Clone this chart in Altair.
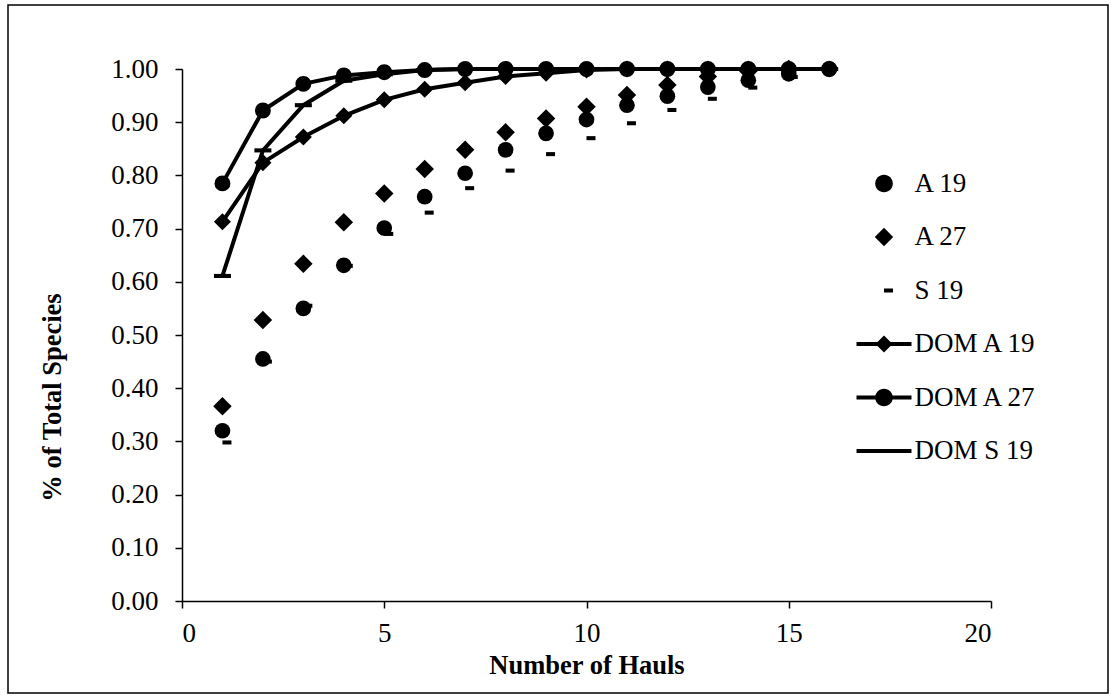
import altair as alt
import pandas as pd

# ---- data ----
hauls = list(range(1, 17))
a19 = [0.320, 0.455, 0.550, 0.631, 0.701, 0.760, 0.804, 0.848, 0.879, 0.905, 0.932, 0.949, 0.966, 0.979, 0.991, 1.000]
a27 = [0.366, 0.528, 0.634, 0.712, 0.766, 0.812, 0.848, 0.881, 0.907, 0.929, 0.951, 0.970, 0.986, 0.996, 1.000]
s19 = [0.298, 0.450, 0.555, 0.630, 0.690, 0.730, 0.776, 0.809, 0.840, 0.870, 0.898, 0.923, 0.944, 0.965, 0.985, 1.000]
dom_a19 = [0.713, 0.824, 0.872, 0.912, 0.942, 0.962, 0.974, 0.986, 0.992, 0.998, 1.000, 1.000, 1.000, 1.000, 1.000, 1.000]
dom_a27 = [0.785, 0.922, 0.972, 0.988, 0.994, 0.998, 1.000, 1.000, 1.000, 1.000, 1.000, 1.000, 1.000, 1.000, 1.000, 1.000]
dom_s19 = [0.611, 0.847, 0.932, 0.978, 0.990, 0.998, 1.000, 1.000, 1.000, 1.000, 1.000, 1.000, 1.000, 1.000, 1.000, 1.000]

series_names = ["A 19", "A 27", "S 19", "DOM A 19", "DOM A 27", "DOM S 19"]
series_values = [a19, a27, s19, dom_a19, dom_a27, dom_s19]
dom_names = ["DOM A 19", "DOM A 27", "DOM S 19"]

x_ticks = [0, 5, 10, 15, 20]
y_ticks = [round(i * 0.1, 1) for i in range(11)]

rows = []
for name, vals in zip(series_names, series_values):
    for h, v in zip(hauls, vals):
        rows.append({"series": name, "haul": h, "value": v})
df = pd.DataFrame(rows)

FONT = "Liberation Serif"

# marker styles (shape, size) per series
small_dash = "M0,-0.45H2V0.45H0Z"
long_dash = "M-1,-0.24H1V0.24H-1Z"
marker_style = {
    "A 19": ("circle", 246),
    "A 27": ("diamond", 342),
    "S 19": (small_dash, 81),
    "DOM A 19": ("diamond", 290),
    "DOM A 27": ("circle", 254),
    "DOM S 19": (long_dash, 289),
}

# legend symbols (paths in a [-1,1] box)
bar = "M-1,-0.073H1V0.073H-1Z"
leg_circle = "M-0.32,0A0.32,0.32 0 1,1 0.32,0A0.32,0.32 0 1,1 -0.32,0Z"
leg_diamond = "M0,-0.335L0.335,0L0,0.335L-0.335,0Z"
leg_dash = "M0,-0.073H0.327V0.073H0Z"
legend_paths = [
    leg_circle,
    leg_diamond,
    leg_dash,
    bar + " M0,-0.31L0.31,0L0,0.31L-0.31,0Z",
    bar + " M-0.32,0A0.32,0.32 0 1,1 0.32,0A0.32,0.32 0 1,1 -0.32,0Z",
    bar,
]

x_enc = alt.X(
    "haul:Q",
    scale=alt.Scale(domain=[0, 20], nice=False),
    axis=alt.Axis(
        values=x_ticks,
        title="Number of Hauls",
        titleY=72,
        titleBaseline="alphabetic",
        labelPadding=12,
    ),
)
y_enc = alt.Y(
    "value:Q",
    scale=alt.Scale(domain=[0, 1], nice=False),
    axis=alt.Axis(
        values=y_ticks,
        format=".2f",
        title="% of Total Species",
        titleAngle=270,
        titleX=-130,
        titleY=328,
        titleAlign="center",
        titleBaseline="middle",
        labelPadding=17,
    ),
)

base = alt.Chart(df).encode(x=x_enc, y=y_enc)

lines = (
    base.transform_filter(alt.FieldOneOfPredicate(field="series", oneOf=dom_names))
    .mark_line(color="black", strokeWidth=4)
    .encode(detail="series:N")
)

point_layers = []
for name in series_names:
    shp, sz = marker_style[name]
    point_layers.append(
        base.transform_filter(alt.datum.series == name).mark_point(
            filled=True, color="black", opacity=1, shape=shp, size=sz, strokeWidth=0
        )
    )

legend_df = pd.DataFrame({"label": series_names})
legend_layer = (
    alt.Chart(legend_df)
    .transform_filter("false")
    .mark_point(filled=True, color="black", opacity=1)
    .encode(
        shape=alt.Shape(
            "label:N",
            scale=alt.Scale(domain=series_names, range=legend_paths),
            legend=alt.Legend(
                title=None,
                orient="none",
                legendX=674.5,
                legendY=87,
                padding=0,
                symbolSize=3025,
                symbolStrokeWidth=0,
                symbolFillColor="black",
                symbolOpacity=1,
                labelFont=FONT,
                labelFontSize=27,
                labelColor="black",
                labelOffset=3,
                labelLimit=400,
                rowPadding=12.5,
            ),
        )
    )
)

frame = (
    alt.Chart(pd.DataFrame({"a": [0]}))
    .mark_rect(filled=False, stroke="black", strokeWidth=1.5)
    .encode(
        x=alt.value(-174),
        x2=alt.value(926),
        y=alt.value(-64),
        y2=alt.value(624),
    )
)

chart = (
    alt.layer(frame, lines, *point_layers, legend_layer)
    .properties(
        width=809,
        height=532,
        padding={"left": 182, "top": 69, "right": 121, "bottom": 97},
        autosize=alt.AutoSizeParams(type="none"),
        background="white",
    )
    .configure_view(stroke=None)
    .configure_axis(
        grid=False,
        domainColor="black",
        domainWidth=1.5,
        tickColor="black",
        tickWidth=1.5,
        tickSize=7,
        labelFont=FONT,
        labelFontSize=27,
        labelColor="black",
        titleFont=FONT,
        titleFontSize=26.5,
        titleFontWeight="bold",
        titleColor="black",
    )
)

chart.save("out.html", embed_options={"renderer": "svg", "actions": False})
